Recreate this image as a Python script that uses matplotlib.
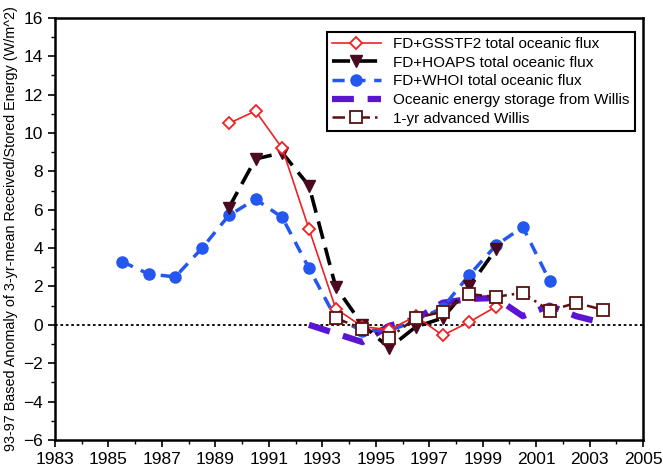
import numpy as np
import matplotlib.pyplot as plt
from matplotlib.ticker import MultipleLocator

plt.rcParams['font.family'] = ['Liberation Sans', 'DejaVu Sans']

# mid-year positions of the 3-yr means
gsstf2_years = [1989.5, 1990.5, 1991.5, 1992.5, 1993.5, 1994.5, 1995.5, 1996.5, 1997.5, 1998.5, 1999.5]
gsstf2_vals = [10.5, 11.15, 9.2, 5.0, 0.85, -0.1, -0.25, 0.45, -0.55, 0.15, 0.95]

hoaps_years = [1989.5, 1990.5, 1991.5, 1992.5, 1993.5, 1994.5, 1995.5, 1996.5, 1997.5, 1998.5, 1999.5]
hoaps_vals = [6.1, 8.65, 8.97, 7.25, 1.98, 0.0, -1.2, -0.1, 0.35, 2.0, 3.95]

whoi_years = [1985.5, 1986.5, 1987.5, 1988.5, 1989.5, 1990.5, 1991.5, 1992.5, 1993.5,
              1994.5, 1995.5, 1996.5, 1997.5, 1998.5, 1999.5, 2000.5, 2001.5]
whoi_vals = [3.3, 2.65, 2.5, 4.0, 5.7, 6.55, 5.6, 2.95, 0.35,
             -0.3, -0.3, 0.2, 0.9, 2.6, 4.15, 5.1, 2.3]

willis_years = [1992.5, 1993.5, 1994.5, 1995.5, 1996.5, 1997.5, 1998.5, 1999.5, 2000.5, 2001.5, 2002.5, 2003.5]
willis_vals = [0.0, -0.45, -0.9, -0.05, 0.3, 1.15, 1.35, 1.4, 0.45, 1.0, 0.45, 0.1]

adv_years = [1993.5, 1994.5, 1995.5, 1996.5, 1997.5, 1998.5, 1999.5, 2000.5, 2001.5, 2002.5, 2003.5]
adv_vals = [0.35, -0.2, -0.68, 0.36, 0.68, 1.6, 1.46, 1.67, 0.73, 1.15, 0.78]

fig = plt.figure(figsize=(6.63, 4.72), dpi=100)
ax = fig.add_axes([0.083, 0.068, 0.887, 0.894])

ax.axhline(0, color='black', linestyle=(0, (1.5, 1.5)), linewidth=1.3, zorder=1)

ax.plot(willis_years, willis_vals, color='#5b14d2', linewidth=4.5, dashes=(3.5, 2.2),
        label='Oceanic energy storage from Willis', zorder=2)
ax.plot(whoi_years, whoi_vals, color='#2457f0', linewidth=2.5, dashes=(3.5, 2.5),
        marker='o', markersize=8, markerfacecolor='#2457f0', markeredgecolor='#2457f0',
        label='FD+WHOI total oceanic flux', zorder=3)
ax.plot(hoaps_years, hoaps_vals, color='black', linewidth=2.6, dashes=(5, 2.5),
        marker='v', markersize=8, markerfacecolor='#4a0a22', markeredgecolor='#4a0a22',
        label='FD+HOAPS total oceanic flux', zorder=4)
ax.plot(gsstf2_years, gsstf2_vals, color='#ee2222', linewidth=1.2,
        marker='D', markersize=6.5, markerfacecolor='white', markeredgecolor='#ee2222',
        markeredgewidth=1.3, label='FD+GSSTF2 total oceanic flux', zorder=5)
ax.plot(adv_years, adv_vals, color='#5a1010', linewidth=1.8, linestyle=(0, (5, 2, 1, 2)),
        marker='s', markersize=9, markerfacecolor='white', markeredgecolor='#5a1010',
        markeredgewidth=1.3, label='1-yr advanced Willis', zorder=6)

ax.set_xlim(1983, 2005)
ax.set_ylim(-6, 16)
ax.set_xticks(np.arange(1983, 2006, 2))
ax.set_yticks(np.arange(-6, 17, 2))
ax.xaxis.set_minor_locator(MultipleLocator(1))
ax.yaxis.set_minor_locator(MultipleLocator(1))
ax.tick_params(which='major', direction='out', length=5, width=1.2, labelsize=12.5)
ax.tick_params(which='minor', direction='out', length=3, width=1)
ax.tick_params(top=False, right=False)
for s in ax.spines.values():
    s.set_linewidth(1.8)

ax.set_ylabel('93-97 Based Anomaly of 3-yr-mean Received/Stored Energy (W/m^2)',
              fontsize=10.4, labelpad=4)

handles, labels = ax.get_legend_handles_labels()
order = [3, 2, 1, 0, 4]
leg = ax.legend([handles[i] for i in order], [labels[i] for i in order],
                loc='upper right', bbox_to_anchor=(0.999, 0.985), fontsize=11,
                frameon=True, fancybox=False, edgecolor='black', framealpha=1,
                handlelength=3.2, labelspacing=0.3, borderpad=0.35, handletextpad=0.8)
leg.get_frame().set_linewidth(1.5)

fig.savefig('out.png', dpi=100)
